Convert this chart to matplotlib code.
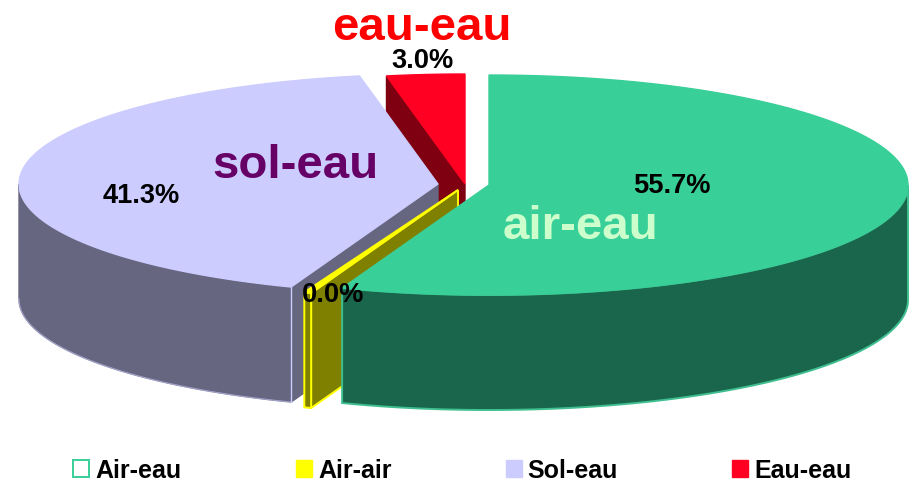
import numpy as np
import matplotlib
matplotlib.use("Agg")
import matplotlib.pyplot as plt
from matplotlib.patches import Polygon, Patch

# ---- data ----
categories = ["Air-eau", "Air-air", "Sol-eau", "Eau-eau"]
values = [55.7, 0.0, 41.3, 3.0]
callouts = ["air-eau", None, "sol-eau", "eau-eau"]

# ---- style ----
top_colors = ["#39CF98", "#FFFF00", "#CCCCFF", "#FF0022"]
side_colors = ["#19664C", "#808000", "#666680", "#7F0010"]
edge_colors = ["#39CF98", "#FFFF00", "#CCCCFF", "#FF0022"]
callout_colors = ["#CCFFCC", None, "#660066", "#FF0000"]
apexes = [(489, 185), (458, 190), (438, 184), (465, 184)]
RX, RY, DEPTH = 419, 110, 115
MIN_SWEEP = 1.0  # degrees, so a 0.0 % slice stays visible

plt.rcParams["font.family"] = ["Liberation Sans", "DejaVu Sans"]
fig = plt.figure(figsize=(9.15, 4.82), dpi=100)
ax = fig.add_axes([0, 0, 1, 1])
ax.set_xlim(0, 915)
ax.set_ylim(482, 0)
ax.axis("off")

# slice angles, clockwise from 12 o'clock
starts = np.concatenate(([0], np.cumsum(values)[:-1])) / sum(values) * 360
sweeps = np.array(values) / sum(values) * 360


def rim(i, a0, a1, n=120):
    cx, cy = apexes[i]
    t = np.radians(np.linspace(a0, a1, n))
    return np.column_stack((cx + RX * np.sin(t), cy - RY * np.cos(t)))


def add(points, color, edge, lw=1.0):
    ax.add_patch(Polygon(points, closed=True, facecolor=color, edgecolor=edge,
                         linewidth=lw, joinstyle="miter"))


def radial_face(i, angle):
    p = rim(i, angle, angle, 1)[0]
    a = np.array(apexes[i], float)
    down = np.array([0, DEPTH])
    add([a, p, p + down, a + down], side_colors[i], side_colors[i] if i != 1 else edge_colors[i],
        1.0 if i != 1 else 1.4)


def outer_wall(i, a0, a1, edge=None):
    r = rim(i, a0, a1)
    add(np.vstack((r, (r + [0, DEPTH])[::-1])), side_colors[i], edge or side_colors[i],
        1.0 if edge is None else 1.4)


def top_face(i, a0, a1, lw=1.0):
    add(np.vstack(([apexes[i]], rim(i, a0, a1))), top_colors[i], edge_colors[i], lw)


# Eau-eau (back)
i = 3
radial_face(i, starts[i])
top_face(i, starts[i], starts[i] + sweeps[i])

# Sol-eau
i = 2
radial_face(i, starts[i])
outer_wall(i, starts[i], 270)
top_face(i, starts[i], starts[i] + sweeps[i])
r = rim(i, starts[i], 270)
ax.plot(r[:, 0], r[:, 1] + DEPTH, color="#CCCCFF", lw=0.8, alpha=0.6)
ax.plot([r[0, 0], r[0, 0]], [r[0, 1], r[0, 1] + DEPTH], color="#CCCCFF", lw=1.0)

# Air-air (practically zero)
i = 1
a0 = starts[i]
radial_face(i, a0)
outer_wall(i, a0, a0 + max(sweeps[i], MIN_SWEEP), edge=edge_colors[i])
top_face(i, a0, a0 + max(sweeps[i], MIN_SWEEP), lw=1.4)

# Air-eau (front)
i = 0
outer_wall(i, 90, starts[i] + sweeps[i], edge="#3FBF90")
top_face(i, starts[i], starts[i] + sweeps[i])

# ---- labels ----
pct_pos = [(672, 186), (333, 295), (141, 196), (422, 61)]
call_pos = [(580, 227), None, (295, 166), (422, 28)]
for v, p in zip(values, pct_pos):
    ax.text(p[0], p[1], f"{v:.1f}%", ha="center", va="center", fontsize=19.6,
            fontweight="bold", color="black")
for c, p, col in zip(callouts, call_pos, callout_colors):
    if c:
        ax.text(p[0], p[1], c, ha="center", va="center", fontsize=34.2,
                fontweight="bold", color=col)

# ---- legend ----
handles = [Patch(facecolor="white", edgecolor=top_colors[0], linewidth=1.4)] + \
          [Patch(facecolor=c, edgecolor=c) for c in top_colors[1:]]
ax.legend(handles, categories, ncol=4, loc="center", bbox_to_anchor=(462.5 / 915, 1 - 470.5 / 482),
          frameon=False, prop={"size": 18, "weight": "bold"},
          handlelength=0.64, handleheight=0.64, handletextpad=0.25,
          columnspacing=4.56, borderpad=0)

fig.savefig("out.png", dpi=100)
